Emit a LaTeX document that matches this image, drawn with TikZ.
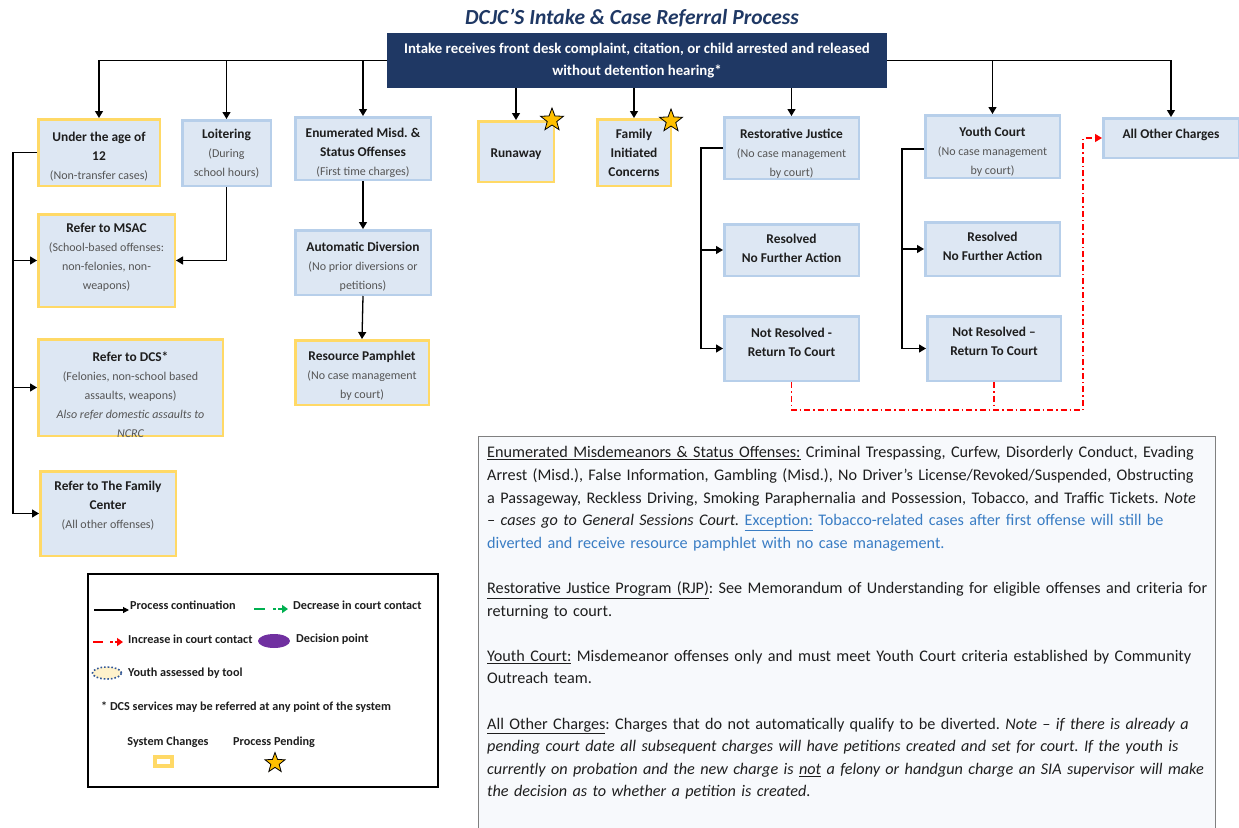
\documentclass[tikz,border=0pt]{standalone}
\usepackage{fontspec}
\setmainfont{Carlito}
\usetikzlibrary{arrows.meta,shapes.geometric,calc}

\definecolor{navy}{HTML}{1F3864}
\definecolor{boxfill}{HTML}{DDE7F3}
\definecolor{bbord}{HTML}{B7CFEA}
\definecolor{ybord}{HTML}{FFD966}
\definecolor{gold}{HTML}{FFC000}
\definecolor{ttlcol}{HTML}{1E1E1E}
\definecolor{subcol}{HTML}{555555}
\definecolor{notefill}{HTML}{F7F9FC}
\definecolor{noteline}{HTML}{808080}
\definecolor{exblue}{HTML}{3A7DC4}
\definecolor{decgreen}{HTML}{00B050}
\definecolor{decpurple}{HTML}{7030A0}
\definecolor{tooldot}{HTML}{2F5597}
\definecolor{toolfill}{HTML}{FFF2CC}

% box title and box sub-line
\newcommand\bxt[1]{{\bfseries\color{ttlcol}#1}}
\newcommand\bxs[1]{{\fontsize{12}{19}\selectfont\color{subcol}#1}}
% text of a box, placed on its centre moved down by #2
\newcommand\boxtext[3]{\node[btxt] (#1t) at ($(#1.center)+(0,#2)$) {#3};}

\tikzset{
  box/.style={rectangle, fill=boxfill, line width=2.5pt, inner sep=0pt},
  ybox/.style={box, draw=ybord},
  bbox/.style={box, draw=bbord},
  btxt/.style={align=center, inner sep=0pt, font=\fontsize{13.4}{19}\selectfont},
  arr/.style={draw=black, line width=1.3pt, -{Triangle[length=7pt,width=8pt]}},
  ln/.style={draw=black, line width=1.3pt},
  redln/.style={draw=red, line width=1.2pt,
    dash pattern=on 6pt off 3pt on 1.5pt off 3pt},
  pend/.style={star, star points=5, star point ratio=2.4, fill=gold,
    draw=black, line width=0.8pt, inner sep=0pt},
  legtxt/.style={anchor=west, inner sep=0pt, text=ttlcol,
    font=\fontsize{12.2}{14}\selectfont\bfseries},
}

\begin{document}
\frenchspacing
\begin{tikzpicture}[x=1pt,y=-1pt]
\useasboundingbox (0,0) rectangle (1239,827);

% heading
\node[font=\fontsize{21.5}{25}\selectfont\bfseries\itshape, text=navy]
  (title) at (632,18) {DCJC’S Intake \& Case Referral Process};

% intake bar
\node[fill=navy, minimum width=500pt, minimum height=55pt, align=center,
  text=white, font=\fontsize{14.8}{22}\selectfont\bfseries]
  (bar) at (637,60.5)
  {Intake receives front desk complaint, citation, or child arrested and released\\without detention hearing*};

% left branch
\node[ybox, minimum width=121.5pt, minimum height=66.5pt] (under) at (99,152.5) {};
\boxtext{under}{4}{\bxt{Under the age of}\\\bxt{12}\\\bxs{(Non-transfer cases)}}
\node[bbox, minimum width=88.5pt, minimum height=65.5pt] (loit) at (226.5,153) {};
\boxtext{loit}{1}{\bxt{Loitering}\\\bxs{(During}\\\bxs{school hours)}}
\node[bbox, minimum width=135.5pt, minimum height=62.5pt] (enum) at (363,148.5) {};
\boxtext{enum}{4.5}{\bxt{Enumerated Misd. \&}\\\bxt{Status Offenses}\\\bxs{(First time charges)}}
\node[ybox, minimum width=136.5pt, minimum height=92.5pt] (msac) at (106.5,260.5) {};
\boxtext{msac}{-3}{\bxt{Refer to MSAC}\\\bxs{(School-based offenses:}\\\bxs{non-felonies, non-}\\\bxs{weapons)}}
\node[bbox, minimum width=135.5pt, minimum height=64.5pt] (auto) at (363,262.5) {};
\boxtext{auto}{4}{\bxt{Automatic Diversion}\\\bxs{(No prior diversions or}\\\bxs{petitions)}}
\node[ybox, minimum width=184.5pt, minimum height=96.5pt] (dcs) at (130.5,387.5) {};
\boxtext{dcs}{7}{\bxt{Refer to DCS*}\\\bxs{(Felonies, non-school based}\\\bxs{assaults, weapons)}\\\bxs{\itshape Also refer domestic assaults to}\\\bxs{\itshape NCRC}}
\node[ybox, minimum width=135.5pt, minimum height=84.5pt] (famc) at (108,513.5) {};
\boxtext{famc}{-8}{\bxt{Refer to The Family}\\\bxt{Center}\\\bxs{(All other offenses)}}
\node[ybox, minimum width=133.5pt, minimum height=64.5pt] (pamph) at (362,372.5) {};
\boxtext{pamph}{3}{\bxt{Resource Pamphlet}\\\bxs{(No case management}\\\bxs{by court)}}

% pending items
\node[ybox, minimum width=75.5pt, minimum height=60.5pt] (run) at (516,151.5) {};
\boxtext{run}{2.5}{\bxt{Runaway}}
\node[ybox, minimum width=73.5pt, minimum height=66.5pt] (fam) at (634,152.5) {};
\boxtext{fam}{0.5}{\bxt{Family}\\\bxt{Initiated}\\\bxt{Concerns}}
\node[pend, minimum size=24pt] (runstar) at (552,120) {};
\node[pend, minimum size=24pt] (famstar) at (671,121) {};

% restorative justice branch
\node[bbox, minimum width=134.5pt, minimum height=61.5pt] (rj) at (791.5,148) {};
\boxtext{rj}{5.5}{\bxt{Restorative Justice}\\\bxs{(No case management}\\\bxs{by court)}}
\node[bbox, minimum width=134.5pt, minimum height=51.5pt] (rjres) at (791.5,250) {};
\boxtext{rjres}{-1.5}{\bxt{Resolved}\\\bxt{No Further Action}}
\node[bbox, minimum width=134.5pt, minimum height=64.5pt] (rjnot) at (791.5,348.5) {};
\boxtext{rjnot}{-6.5}{\bxt{Not Resolved -}\\\bxt{Return To Court}}

% youth court branch
\node[bbox, minimum width=134.5pt, minimum height=62.5pt] (yc) at (992.5,146.5) {};
\boxtext{yc}{5.5}{\bxt{Youth Court}\\\bxs{(No case management}\\\bxs{by court)}}
\node[bbox, minimum width=134.5pt, minimum height=53.5pt] (ycres) at (992.5,249) {};
\boxtext{ycres}{-2.5}{\bxt{Resolved}\\\bxt{No Further Action}}
\node[bbox, minimum width=133.5pt, minimum height=64.5pt] (ycnot) at (994,348.5) {};
\boxtext{ycnot}{-7.5}{\bxt{Not Resolved –}\\\bxt{Return To Court}}

\node[bbox, minimum width=135.5pt, minimum height=39.5pt] (other) at (1171,138) {};
\boxtext{other}{-3}{\bxt{All Other Charges}}

% connectors from intake
\draw[arr] (bar.west) -| (under.north);
\draw[arr] (loit.north |- bar.west) -- (loit.north);
\draw[arr] (enum.north |- bar.west) -- (enum.north);
\draw[arr] (bar.south -| run.north) -- (run.north);
\draw[arr] (bar.south -| fam.north) -- (fam.north);
\draw[arr] (bar.south -| rj.north) -- (rj.north);
\draw[arr] (bar.east) -| (other.north);
\draw[arr] (yc.north |- bar.east) -- (yc.north);

% under-12 referrals
\draw[ln] (under.west) -- ++(-24,0) coordinate (ub) -- (ub |- famc.west);
\draw[arr] (ub |- msac.west) -- (msac.west);
\draw[arr] (ub |- dcs.west) -- (dcs.west);
\draw[arr] (ub |- famc.west) -- (famc.west);
\draw[arr] (loit.south) |- (msac.east);

% diversion chain
\draw[arr] (enum.south) -- (auto.north);
\draw[arr] (auto.south) -- (pamph.north);

% restorative justice outcomes
\draw[ln] (rj.west) -- ++(-22,0) coordinate (rb) -- (rb |- rjnot.west);
\draw[arr] (rb |- rjres.west) -- (rjres.west);
\draw[arr] (rb |- rjnot.west) -- (rjnot.west);

% youth court outcomes
\draw[ln] ([yshift=-2.5pt]yc.west) -- ++(-22,0) coordinate (yb) -- (yb |- ycnot.west);
\draw[arr] (yb |- ycres.west) -- (ycres.west);
\draw[arr] (yb |- ycnot.west) -- (ycnot.west);

% return to court
\coordinate (rc) at (1083,410);
\draw[redln, -{Triangle[length=7pt,width=8pt]}] (rjnot.south) |- (rc) |- (other.west);
\draw[redln] (ycnot.south) -- (ycnot.south |- rc);

% legend
\node[draw=black, line width=1.3pt, minimum width=350pt, minimum height=213pt,
  inner sep=0pt] (legend) at (263,680.5) {};
\coordinate (la1) at (94,610);
\coordinate (la2) at (129,610);
\draw[draw=black, line width=1.1pt, -{Triangle[length=6pt,width=6pt]}] (la1) -- (la2);
\node[legtxt] (lt1) at (130,605) {Process continuation};
\coordinate (lg1) at (254,609);
\coordinate (lg2) at (288,609);
\draw[draw=decgreen, line width=2.5pt, dash pattern=on 11pt off 8pt on 3pt off 2pt,
  -{Triangle[length=6pt,width=8pt]}] (lg1) -- (lg2);
\node[legtxt] (lt2) at (293,605) {Decrease in court contact};
\coordinate (lr1) at (93,642);
\coordinate (lr2) at (123,642);
\draw[draw=red, line width=2.5pt, dash pattern=on 10pt off 7pt on 3pt off 2pt,
  -{Triangle[length=6pt,width=8pt]}] (lr1) -- (lr2);
\node[legtxt] (lt3) at (128,639) {Increase in court contact};
\node[ellipse, fill=decpurple, minimum width=32pt, minimum height=14pt,
  inner sep=0pt] (decis) at (274,641) {};
\node[legtxt] (lt4) at (296,639) {Decision point};
\node[ellipse, draw=tooldot, line width=1.6pt, dotted, fill=toolfill,
  minimum width=29pt, minimum height=12pt, inner sep=0pt] (tool) at (107,673) {};
\node[legtxt] (lt5) at (128,673) {Youth assessed by tool};
\node[legtxt] (lt6) at (101,707) {* DCS services may be referred at any point of the system};
\node[legtxt, anchor=center] (lt7) at (168,742) {System Changes};
\node[draw=ybord, line width=3.5pt, fill=white, minimum width=17pt,
  minimum height=9pt, inner sep=0pt] (sysch) at (163.5,761.5) {};
\node[legtxt, anchor=center] (lt8) at (274,742) {Process Pending};
\node[pend, minimum size=21pt] (pendstar) at (275,763) {};

% notes panel
\node[draw=noteline, line width=1.2pt, fill=notefill, anchor=north west,
  minimum width=737pt, minimum height=420pt, inner sep=0pt] (notes) at (478,436) {};
\node[anchor=north west, inner sep=0pt, text width=740pt, align=left,
  text=ttlcol, font=\fontsize{16.2}{22.6}\selectfont] (notestext) at (487,446.5)
{\underline{Enumerated Misdemeanors \& Status Offenses:} Criminal Trespassing, Curfew, Disorderly Conduct, Evading\\
Arrest (Misd.), False Information, Gambling (Misd.), No Driver’s License/Revoked/Suspended, Obstructing\\
a Passageway, Reckless Driving, Smoking Paraphernalia and Possession, Tobacco, and Traffic Tickets. \textit{Note}\\
\textit{– cases go to General Sessions Court.} {\color{exblue}\underline{Exception:} Tobacco-related cases after first offense will still be}\\
{\color{exblue}diverted and receive resource pamphlet with no case management.}\\[22.6pt]
\underline{Restorative Justice Program (RJP)}: See Memorandum of Understanding for eligible offenses and criteria for\\
returning to court.\\[22.6pt]
\underline{Youth Court:} Misdemeanor offenses only and must meet Youth Court criteria established by Community\\
Outreach team.\\[22.6pt]
\underline{All Other Charges}: Charges that do not automatically qualify to be diverted. \textit{Note – if there is already a}\\
\textit{pending court date all subsequent charges will have petitions created and set for court. If the youth is}\\
\textit{currently on probation and the new charge is \underline{not} a felony or handgun charge an SIA supervisor will make}\\
\textit{the decision as to whether a petition is created.}};
\end{tikzpicture}
\end{document}
